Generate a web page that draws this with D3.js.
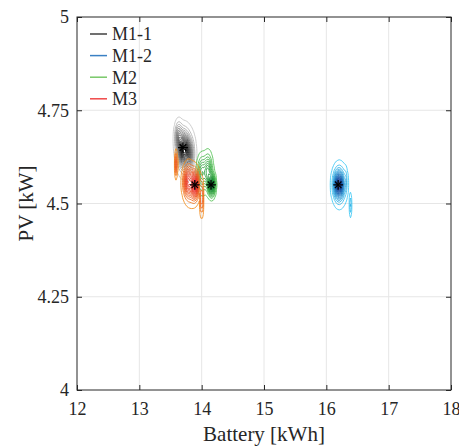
<!DOCTYPE html>
<html lang="en">
  <head>
    <meta charset="utf-8">
    <title>Battery x PV</title>
    <script src="https://d3js.org/d3.v7.min.js"></script>
    <style>
      body { margin: 0; background: #fff; }
      text { font-family: "Liberation Serif", Tinos, "Times New Roman", "DejaVu Serif", serif; fill: #262626; }
    </style>
  </head>
  <body>
    <svg></svg>
    <script>
    // models and colours
    const modelos = ['M1-1', 'M1-2', 'M2', 'M3']
    const corLegenda = ['#404040', '#3a80c4', '#78c868', '#f04848']
    const corFora = ['#c4c4c4', '#3cc8f4', '#50c050', '#f28c1c']
    const corDentro = ['#000000', '#0a2c8c', '#0a7a2e', '#e82430']

    // mean of each model (the asterisks)
    const mediaBateria = [13.7, 16.19, 14.15, 13.89]
    const mediaPV = [4.65, 4.55, 4.55, 4.55]

    // pieces of each density: [battery, pv, sd battery, sd pv, weight]
    const pecasM11 = [
      [13.71, 4.645, 0.05, 0.026, 1.0],
      [13.63, 4.68, 0.035, 0.022, 0.45],
      [13.80, 4.63, 0.045, 0.025, 0.4],
      [13.74, 4.64, 0.08, 0.036, 0.3]
    ]
    const pecasM12 = [
      [16.2, 4.55, 0.042, 0.02, 1.0],
      [16.21, 4.55, 0.065, 0.03, 0.35],
      [16.31, 4.56, 0.015, 0.02, 0.12],
      [16.39, 4.495, 0.01, 0.018, 0.18]
    ]
    const pecasM2 = [
      [14.16, 4.55, 0.03, 0.016, 1.0],
      [14.10, 4.585, 0.04, 0.026, 0.45],
      [14.0, 4.58, 0.04, 0.026, 0.35]
    ]
    const pecasM3 = [
      [13.89, 4.55, 0.035, 0.02, 1.0],
      [13.78, 4.56, 0.04, 0.022, 0.6],
      [13.83, 4.55, 0.07, 0.03, 0.25],
      [13.59, 4.605, 0.012, 0.019, 0.35],
      [14.0, 4.515, 0.012, 0.026, 0.45]
    ]
    const pecas = [pecasM11, pecasM12, pecasM2, pecasM3]
    // how fast each model goes from outer to inner colour
    const curva = [0.8, 0.9, 0.8, 0.55]

    const xTicks = [12, 13, 14, 15, 16, 17, 18]
    const yTicks = [4, 4.25, 4.5, 4.75, 5]

    const W = 459, H = 446
    const margin = {top: 17, right: 8, bottom: 56, left: 77}
    const width = W - margin.left - margin.right
    const height = H - margin.top - margin.bottom

    const svg = d3.select('svg')
      .attr('width', W)
      .attr('height', H)

    const g = svg.append('g')
      .attr('transform', `translate(${margin.left}, ${margin.top})`)

    const x = d3.scaleLinear().domain([12, 18]).range([0, width])
    const y = d3.scaleLinear().domain([4, 5]).range([height, 0])

    // grid
    g.append('g').selectAll('line')
      .data(xTicks.slice(1, -1))
      .join('line')
        .attr('x1', d => x(d)).attr('x2', d => x(d))
        .attr('y1', 0).attr('y2', height)
        .attr('stroke', '#e6e6e6')
    g.append('g').selectAll('line')
      .data(yTicks.slice(1, -1))
      .join('line')
        .attr('y1', d => y(d)).attr('y2', d => y(d))
        .attr('x1', 0).attr('x2', width)
        .attr('stroke', '#e6e6e6')

    // density on a grid in data space (coarse-ish, like the original)
    const nx = 240, ny = 220
    const gx = d3.scaleLinear().domain([0, nx]).range(x.domain())
    const gy = d3.scaleLinear().domain([0, ny]).range(y.domain())

    const projecao = d3.geoTransform({
      point: function (px, py) { this.stream.point(x(gx(px)), y(gy(py))) }
    })
    const caminho = d3.geoPath(projecao)

    const nNiveis = 18
    const nivelFrac = d3.range(nNiveis).map(k => 0.025 + k * 0.054)

    pecas.forEach((lista, m) => {
      const valores = new Float64Array(nx * ny)
      for (let j = 0; j < ny; j++) {
        const pv = gy(j + 0.5)
        for (let i = 0; i < nx; i++) {
          const bat = gx(i + 0.5)
          let s = 0
          for (const [mb, mp, sb, sp, w] of lista) {
            const a = (bat - mb) / sb, b = (pv - mp) / sp
            const e = a * a + b * b
            if (e < 40) s += w * Math.exp(-0.5 * e)
          }
          valores[j * nx + i] = s
        }
      }
      const maximo = d3.max(valores)
      const cor = d3.interpolateRgb(corFora[m], corDentro[m])
      const contornos = d3.contours()
        .size([nx, ny])
        .thresholds(nivelFrac.map(f => f * maximo))(valores)

      g.append('g')
        .attr('class', 'modelo')
        .selectAll('path')
        .data(contornos)
        .join('path')
          .attr('d', caminho)
          .attr('fill', 'none')
          .attr('stroke', (d, k) => cor(Math.pow(k / (nNiveis - 1), curva[m])))
          .attr('stroke-width', 0.85)
    })

    // asterisks at the means
    const medias = modelos.map((d, i) => [mediaBateria[i], mediaPV[i]])
    const ast = g.append('g').selectAll('g')
      .data(medias)
      .join('g')
        .attr('transform', d => `translate(${x(d[0])}, ${y(d[1])})`)
    ast.append('path')
      .attr('d', d3.symbol(d3.symbolPlus, 34))
      .attr('fill', 'none').attr('stroke', '#000').attr('stroke-width', 1.3)
    ast.append('path')
      .attr('d', d3.symbol(d3.symbolTimes, 30))
      .attr('fill', 'none').attr('stroke', '#000').attr('stroke-width', 1.3)

    // axes (ticks inside, box on)
    const fonte = '18px'
    const serifa = '"Liberation Serif", Tinos, "Times New Roman", "DejaVu Serif", serif'
    g.append('g')
      .attr('transform', `translate(0, ${height})`)
      .call(d3.axisBottom(x).tickValues(xTicks).tickFormat(d => String(d)).tickSizeInner(-5).tickSizeOuter(0).tickPadding(12))
    g.append('g')
      .call(d3.axisLeft(y).tickValues(yTicks).tickFormat(d => String(d)).tickSizeInner(-5).tickSizeOuter(0).tickPadding(8))
    g.append('g')
      .call(d3.axisTop(x).tickValues(xTicks).tickSizeInner(-5).tickSizeOuter(0).tickFormat(''))
    g.append('g')
      .attr('transform', `translate(${width}, 0)`)
      .call(d3.axisRight(y).tickValues(yTicks).tickSizeInner(-5).tickSizeOuter(0).tickFormat(''))

    g.selectAll('.domain').remove()
    g.selectAll('.tick line').attr('stroke', '#262626')
    g.selectAll('.tick text')
      .style('font-family', serifa)
      .style('font-size', fonte)
      .attr('fill', '#262626')

    g.append('rect')
      .attr('width', width)
      .attr('height', height)
      .attr('fill', 'none')
      .attr('stroke', '#262626')
      .attr('stroke-width', 1)

    // axis labels
    svg.append('text')
      .attr('x', margin.left + width / 2)
      .attr('y', 441)
      .attr('text-anchor', 'middle')
      .style('font-family', serifa)
      .style('font-size', '21px')
      .text('Battery [kWh]')
    svg.append('text')
      .attr('transform', `translate(33, ${margin.top + y(4.5)}) rotate(-90)`)
      .attr('text-anchor', 'middle')
      .style('font-family', serifa)
      .style('font-size', '21px')
      .text('PV [kW]')

    // legend
    const leg = g.append('g')
      .attr('transform', 'translate(13, 17)')
      .selectAll('g')
      .data(modelos)
      .join('g')
        .attr('transform', (d, i) => `translate(0, ${i * 21.6})`)
    leg.append('line')
      .attr('x1', 0).attr('x2', 17)
      .attr('stroke', (d, i) => corLegenda[i])
      .attr('stroke-width', 1.5)
    leg.append('text')
      .attr('x', 22)
      .attr('dy', '0.35em')
      .style('font-family', serifa)
      .style('font-size', fonte)
      .text(d => d)
    </script>
  </body>
</html>
